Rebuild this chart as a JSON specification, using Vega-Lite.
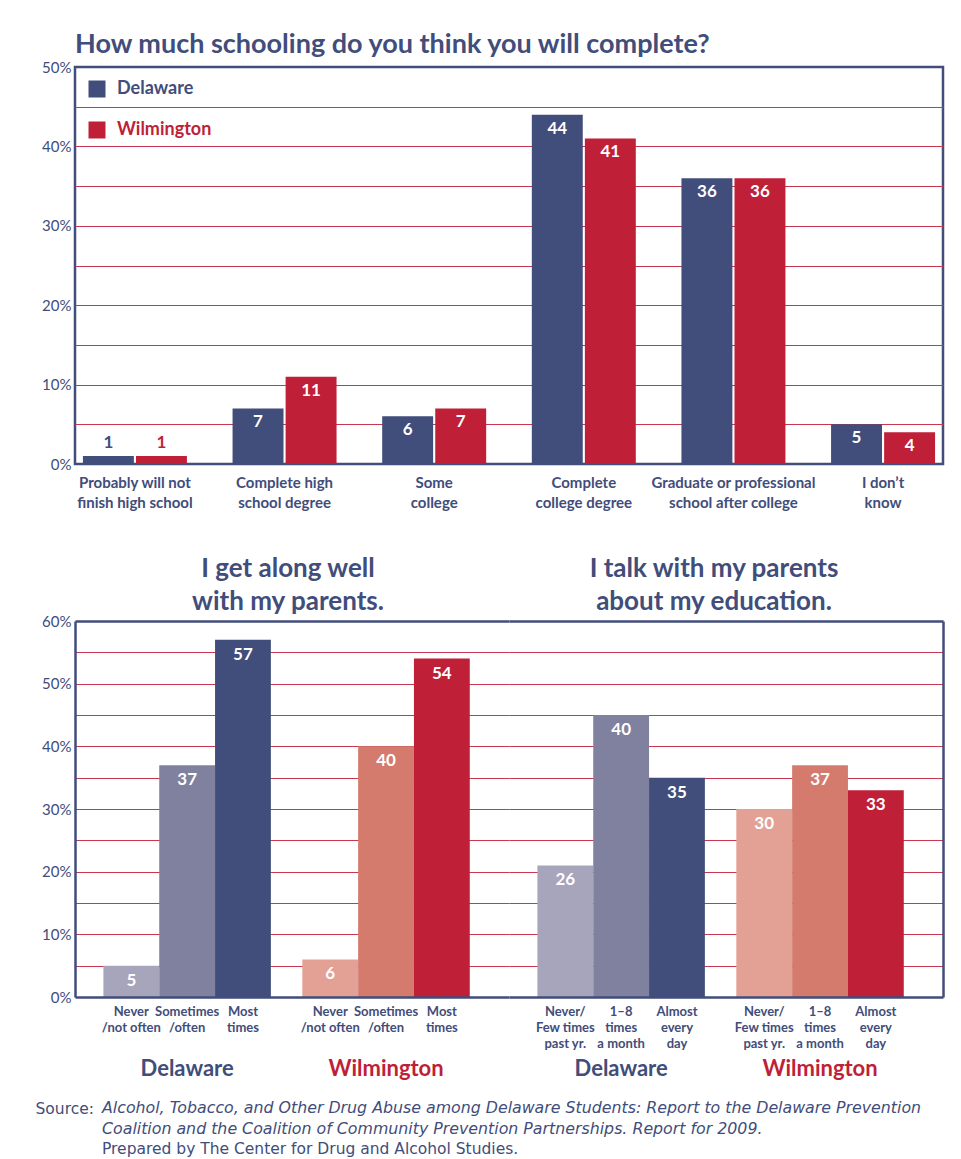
{
  "$schema": "https://vega.github.io/schema/vega-lite/v6.json",
  "padding": {"left": 35, "top": 29, "right": 5, "bottom": 5},
  "background": "white",
  "config": {"font": "Lato", "view": {"stroke": null}},
  "bounds": "flush",
  "spacing": 157,
  "resolve": {"scale": {"x": "independent", "xOffset": "independent", "y": "independent", "color": "independent"}},
  "title": {
    "text": ["Alcohol, Tobacco, and Other Drug Abuse among Delaware Students: Report to the Delaware Prevention", "Coalition and the Coalition of Community Prevention Partnerships. Report for 2009."],
    "subtitle": "Prepared by The Center for Drug and Alcohol Studies.",
    "orient": "bottom", "anchor": "start", "frame": "bounds",
    "font": "DejaVu Sans", "subtitleFont": "DejaVu Sans",
    "fontSize": 15.8, "fontStyle": "italic", "fontWeight": "normal", "color": "#414d7a", "lineHeight": 21,
    "subtitleFontSize": 15.5, "subtitleFontStyle": "normal", "subtitleColor": "#414d7a", "subtitleLineHeight": 21, "subtitlePadding": 5,
    "dx": 67, "offset": -16
  },
  "vconcat": [
    {
      "width": 868, "height": 397,
      "view": {"stroke": "#414d7a", "strokeWidth": 2.5},
      "title": {"text": "How much schooling do you think you will complete?", "anchor": "start", "frame": "group", "fontSize": 27, "fontWeight": "bold", "color": "#414d7a", "offset": 1},
      "data": {"values": [
        {"answer": "Probably will not\nfinish high school", "place": "Delaware", "pct": 1},
        {"answer": "Probably will not\nfinish high school", "place": "Wilmington", "pct": 1},
        {"answer": "Complete high\nschool degree", "place": "Delaware", "pct": 7},
        {"answer": "Complete high\nschool degree", "place": "Wilmington", "pct": 11},
        {"answer": "Some\ncollege", "place": "Delaware", "pct": 6},
        {"answer": "Some\ncollege", "place": "Wilmington", "pct": 7},
        {"answer": "Complete\ncollege degree", "place": "Delaware", "pct": 44},
        {"answer": "Complete\ncollege degree", "place": "Wilmington", "pct": 41},
        {"answer": "Graduate or professional\nschool after college", "place": "Delaware", "pct": 36},
        {"answer": "Graduate or professional\nschool after college", "place": "Wilmington", "pct": 36},
        {"answer": "I don’t\nknow", "place": "Delaware", "pct": 5},
        {"answer": "I don’t\nknow", "place": "Wilmington", "pct": 4}
      ]},
      "encoding": {
        "x": {"field": "answer", "type": "nominal", "sort": null,
          "scale": {"paddingInner": 0.305, "paddingOuter": 0.053},
          "axis": {"title": null, "labelExpr": "split(datum.label, '\\n')", "labelAngle": 0, "labelFontSize": 15, "labelFontWeight": "bold", "labelColor": "#414d7a", "labelLineHeight": 20, "labelPadding": 11, "labelBaseline": "top", "ticks": false, "domain": false, "labelLimit": 300}},
        "xOffset": {"field": "place", "type": "nominal", "sort": ["Delaware", "Wilmington"], "scale": {"paddingInner": 0.04}},
        "y": {"field": "pct", "type": "quantitative", "scale": {"domain": [0, 50]},
          "axis": {"title": null, "values": [0, 5, 10, 15, 20, 25, 30, 35, 40, 45, 50], "labelExpr": "datum.value % 10 == 0 ? datum.value + '%' : ''", "ticks": false, "domain": false, "labelFontSize": 15, "labelColor": "#414d7a", "labelPadding": 4,
            "gridColor": {"condition": {"test": "datum.value == 0 || datum.value == 50", "value": "transparent"}, "value": "#c8374f"}, "gridWidth": 1.2}}
      },
      "layer": [
        {"mark": {"type": "bar"},
         "encoding": {"color": {"field": "place", "type": "nominal", "scale": {"domain": ["Delaware", "Wilmington"], "range": ["#414d7a", "#c01f38"]},
           "legend": {"orient": "top-left", "offset": 13, "title": null, "symbolType": "square", "symbolSize": 289, "symbolStrokeWidth": 0, "symbolOpacity": 1, "labelFontSize": 18, "labelFontWeight": "bold", "labelOffset": 11, "rowPadding": 23, "padding": 0, "direction": "vertical",
             "encode": {"labels": {"update": {"fill": {"signal": "datum.value === 'Wilmington' ? '#c01f38' : '#414d7a'"}}}}}}}},
        {"transform": [{"filter": "datum.pct >= 3"}],
         "mark": {"type": "text", "baseline": "top", "dy": 6, "fontSize": 17, "fontWeight": "bold", "color": "white"},
         "encoding": {"text": {"field": "pct", "type": "quantitative"}}},
        {"transform": [{"filter": "datum.pct < 3"}],
         "mark": {"type": "text", "baseline": "bottom", "dy": -4, "fontSize": 17, "fontWeight": "bold"},
         "encoding": {"text": {"field": "pct", "type": "quantitative"}, "color": {"condition": {"test": "datum.place == 'Wilmington'", "value": "#c01f38"}, "value": "#414d7a"}}}
      ]
    },
    {
      "resolve": {"scale": {"x": "independent", "xOffset": "independent", "y": "independent", "color": "independent"}},
      "hconcat": [
        {
          "width": 434, "height": 376,
          "title": {"text": ["I get along well", "with my parents."], "anchor": "middle", "frame": "group", "fontSize": 26, "fontWeight": "bold", "color": "#414d7a", "lineHeight": 33, "offset": -1, "dx": -4},
          "data": {"values": [
            {"place": "Delaware", "lvl": 1, "shade": "Delaware 1", "label": "Never\n/not often", "pct": 5, "lbl": "5"},
            {"place": "Delaware", "lvl": 2, "shade": "Delaware 2", "label": "Sometimes\n/often", "pct": 37, "lbl": "37"},
            {"place": "Delaware", "lvl": 3, "shade": "Delaware 3", "label": "Most\ntimes", "pct": 57, "lbl": "57"},
            {"place": "Wilmington", "lvl": 1, "shade": "Wilmington 1", "label": "Never\n/not often", "pct": 6, "lbl": "6"},
            {"place": "Wilmington", "lvl": 2, "shade": "Wilmington 2", "label": "Sometimes\n/often", "pct": 40, "lbl": "40"},
            {"place": "Wilmington", "lvl": 3, "shade": "Wilmington 3", "label": "Most\ntimes", "pct": 54, "lbl": "54"}
          ]},
          "encoding": {
            "x": {"field": "place", "type": "nominal", "sort": ["Delaware", "Wilmington"],
              "scale": {"paddingInner": 0.158, "paddingOuter": 0.17, "align": 0.42},
              "axis": {"labelAngle": 0, "labelFontSize": 22, "labelFontWeight": "bold", "labelColor": {"condition": {"test": "datum.value == 'Wilmington'", "value": "#c01f38"}, "value": "#414d7a"}, "labelPadding": 61, "labelBaseline": "top", "ticks": false, "domainColor": "#414d7a", "domainWidth": 2.5, "zindex": 1,
                "title": "Source:", "titleX": -40, "titleY": 116, "titleAlign": "left", "titleAnchor": "start", "titleBaseline": "alphabetic", "titleFont": "DejaVu Sans", "titleFontSize": 15.5, "titleFontWeight": "normal", "titleColor": "#414d7a"}},
            "xOffset": {"field": "lvl", "type": "ordinal", "scale": {"paddingInner": 0}},
            "y": {"field": "pct", "type": "quantitative", "scale": {"domain": [0, 60]},
              "axis": {"title": null, "values": [0, 5, 10, 15, 20, 25, 30, 35, 40, 45, 50, 55, 60], "labelExpr": "datum.value % 10 == 0 ? datum.value + '%' : ''", "ticks": false, "domainColor": "#414d7a", "domainWidth": 2.5, "labelFontSize": 15, "labelColor": "#414d7a", "labelPadding": 4,
                "gridColor": {"condition": {"test": "datum.value == 60", "value": "#414d7a"}, "value": "#c8374f"},
                "gridWidth": {"condition": {"test": "datum.value == 60", "value": 2.5}, "value": 1.2},
                "gridOpacity": {"condition": {"test": "datum.value == 0", "value": 0}, "value": 1}}}
          },
          "layer": [
            {"mark": {"type": "bar"},
             "encoding": {"color": {"field": "shade", "type": "nominal", "legend": null,
               "scale": {"domain": ["Delaware 1", "Delaware 2", "Delaware 3", "Wilmington 1", "Wilmington 2", "Wilmington 3"], "range": ["#a7a5bc", "#80819f", "#414d7a", "#e2a194", "#d47b6e", "#c01f38"]}}}},
            {"mark": {"type": "text", "baseline": "top", "dy": 7, "fontSize": 17, "fontWeight": "bold", "color": "white"},
             "encoding": {"text": {"field": "lbl"}}},
            {"mark": {"type": "text", "baseline": "top", "dy": 9, "fontSize": 13, "fontWeight": "bold", "color": "#414d7a", "lineBreak": "\n", "lineHeight": 16},
             "encoding": {"y": {"datum": 0}, "text": {"field": "label"}}}
          ]
        },
        {
          "width": 434, "height": 376,
          "title": {"text": ["I talk with my parents", "about my education."], "anchor": "middle", "frame": "group", "fontSize": 26, "fontWeight": "bold", "color": "#414d7a", "lineHeight": 33, "offset": 6, "dx": -12},
          "data": {"values": [
            {"place": "Delaware", "lvl": 1, "shade": "Delaware 1", "label": "Never/\nFew times\npast yr.", "pct": 21, "lbl": "26"},
            {"place": "Delaware", "lvl": 2, "shade": "Delaware 2", "label": "1–8\ntimes\na month", "pct": 45, "lbl": "40"},
            {"place": "Delaware", "lvl": 3, "shade": "Delaware 3", "label": "Almost\nevery\nday", "pct": 35, "lbl": "35"},
            {"place": "Wilmington", "lvl": 1, "shade": "Wilmington 1", "label": "Never/\nFew times\npast yr.", "pct": 30, "lbl": "30"},
            {"place": "Wilmington", "lvl": 2, "shade": "Wilmington 2", "label": "1–8\ntimes\na month", "pct": 37, "lbl": "37"},
            {"place": "Wilmington", "lvl": 3, "shade": "Wilmington 3", "label": "Almost\nevery\nday", "pct": 33, "lbl": "33"}
          ]},
          "encoding": {
            "x": {"field": "place", "type": "nominal", "sort": ["Delaware", "Wilmington"],
              "scale": {"paddingInner": 0.158, "paddingOuter": 0.17, "align": 0.42},
              "axis": {"title": null, "labelAngle": 0, "labelFontSize": 22, "labelFontWeight": "bold", "labelColor": {"condition": {"test": "datum.value == 'Wilmington'", "value": "#c01f38"}, "value": "#414d7a"}, "labelPadding": 61, "labelBaseline": "top", "ticks": false, "domainColor": "#414d7a", "domainWidth": 2.5, "zindex": 1}},
            "xOffset": {"field": "lvl", "type": "ordinal", "scale": {"paddingInner": 0}},
            "y": {"field": "pct", "type": "quantitative", "scale": {"domain": [0, 60]},
              "axis": {"orient": "right", "title": null, "labels": false, "values": [0, 5, 10, 15, 20, 25, 30, 35, 40, 45, 50, 55, 60], "ticks": false, "domainColor": "#414d7a", "domainWidth": 2.5,
                "gridColor": {"condition": {"test": "datum.value == 60", "value": "#414d7a"}, "value": "#c8374f"},
                "gridWidth": {"condition": {"test": "datum.value == 60", "value": 2.5}, "value": 1.2},
                "gridOpacity": {"condition": {"test": "datum.value == 0", "value": 0}, "value": 1}}}
          },
          "layer": [
            {"mark": {"type": "bar"},
             "encoding": {"color": {"field": "shade", "type": "nominal", "legend": null,
               "scale": {"domain": ["Delaware 1", "Delaware 2", "Delaware 3", "Wilmington 1", "Wilmington 2", "Wilmington 3"], "range": ["#a7a5bc", "#80819f", "#414d7a", "#e2a194", "#d47b6e", "#c01f38"]}}}},
            {"mark": {"type": "text", "baseline": "top", "dy": 7, "fontSize": 17, "fontWeight": "bold", "color": "white"},
             "encoding": {"text": {"field": "lbl"}}},
            {"mark": {"type": "text", "baseline": "top", "dy": 9, "fontSize": 13, "fontWeight": "bold", "color": "#414d7a", "lineBreak": "\n", "lineHeight": 16},
             "encoding": {"y": {"datum": 0}, "text": {"field": "label"}}}
          ]
        }
      ],
      "spacing": 0,
      "bounds": "flush"
    }
  ]
}
